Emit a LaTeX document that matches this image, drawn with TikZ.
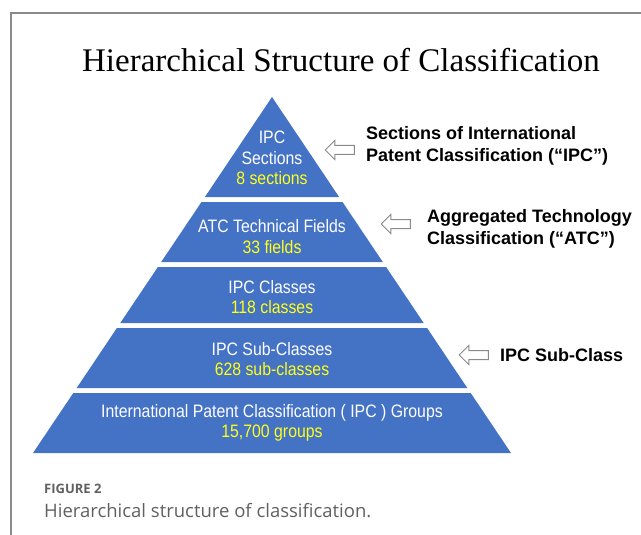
\documentclass[tikz,border=0pt]{standalone}
\usepackage{fontspec}
\usepackage{xcolor}
\usepackage{tikz}
\usetikzlibrary{
    shapes.arrows,
    positioning
}
\newfontfamily\slideserif{Liberation Serif}
\newfontfamily\slidesans{Liberation Sans}
\newfontfamily\capfont{Open Sans}
\definecolor{tierblue}{HTML}{4472C4}
\definecolor{numyellow}{HTML}{FFFF1A}
\definecolor{framegray}{HTML}{8A8A8A}
\definecolor{capgray}{HTML}{606060}
\newcommand{\yel}[1]{\textcolor{numyellow}{#1}}

\begin{document}
\begin{tikzpicture}[x=1pt, y=1pt,
    tier/.style={fill=tierblue, draw=none},
    tiertext/.style={text=white, align=center, inner sep=0pt, xscale=0.88,
        font=\slidesans\fontsize{18}{20.5}\selectfont},
    sidenote/.style={anchor=west, align=left, inner sep=0pt,
        font=\slidesans\bfseries\fontsize{18}{22}\selectfont},
    pointer/.style={single arrow, draw=framegray, fill=white, line width=1pt,
        minimum height=29pt, minimum width=19pt, inner sep=4pt,
        single arrow head extend=5pt, rotate=180}]
    \useasboundingbox (0, 0) rectangle (641, -535);
    % figure box
    \draw[framegray, line width=1.3pt] (11, -535) -- (11, -13) -- (641, -13);
    \node[font=\slideserif\fontsize{33}{40}\selectfont, anchor=base] (title) at (341, -72)
        {Hierarchical Structure of Classification};
    % pyramid, top to bottom
    \fill[tier] (272, -97) -- (339.1, -197) -- (204.9, -197) -- cycle;
    \fill[tier] (201.5, -202) -- (342.5, -202) -- (382.8, -262) -- (161.2, -262) -- cycle;
    \fill[tier] (157.9, -267) -- (386.1, -267) -- (423.7, -323) -- (120.3, -323) -- cycle;
    \fill[tier] (116.9, -328) -- (427.1, -328) -- (467.3, -388) -- (76.7, -388) -- cycle;
    \fill[tier] (73.3, -393) -- (470.7, -393) -- (511, -453) -- (33, -453) -- cycle;
    \node[tiertext] (sec) at (272, -158) {IPC\\Sections\\\yel{8 sections}};
    \node[tiertext] (atc) at (272, -236.5) {ATC Technical Fields\\\yel{33 fields}};
    \node[tiertext] (cls) at (272, -297) {IPC Classes\\\yel{118 classes}};
    \node[tiertext] (sub) at (272, -359) {IPC Sub-Classes\\\yel{628 sub-classes}};
    \node[tiertext] (grp) at (272, -423)
        {International Patent Classification ( IPC ) Groups\\\yel{15,700 groups}};
    % side notes with hollow arrows
    \node[pointer] (p1) at (342, -150) {};
    \node[sidenote] (n1) at (366, -146) {Sections of International\\Patent Classification (“IPC”)};
    \node[pointer] (p2) at (398, -224) {};
    \node[sidenote] (n2) at (427, -229) {Aggregated Technology\\Classification (“ATC”)};
    \node[pointer] (p3) at (476, -355) {};
    \node[sidenote] (n3) at (500, -355) {IPC Sub-Class};
    % caption
    \node[anchor=base west, inner sep=0pt, text=capgray,
        font=\capfont\bfseries\fontsize{13}{16}\selectfont] (fig) at (44, -493) {FIGURE 2};
    \node[anchor=base west, inner sep=0pt, text=capgray,
        font=\capfont\fontsize{18.5}{22}\selectfont] (cap) at (44, -517)
        {Hierarchical structure of classification.};
\end{tikzpicture}
\end{document}
